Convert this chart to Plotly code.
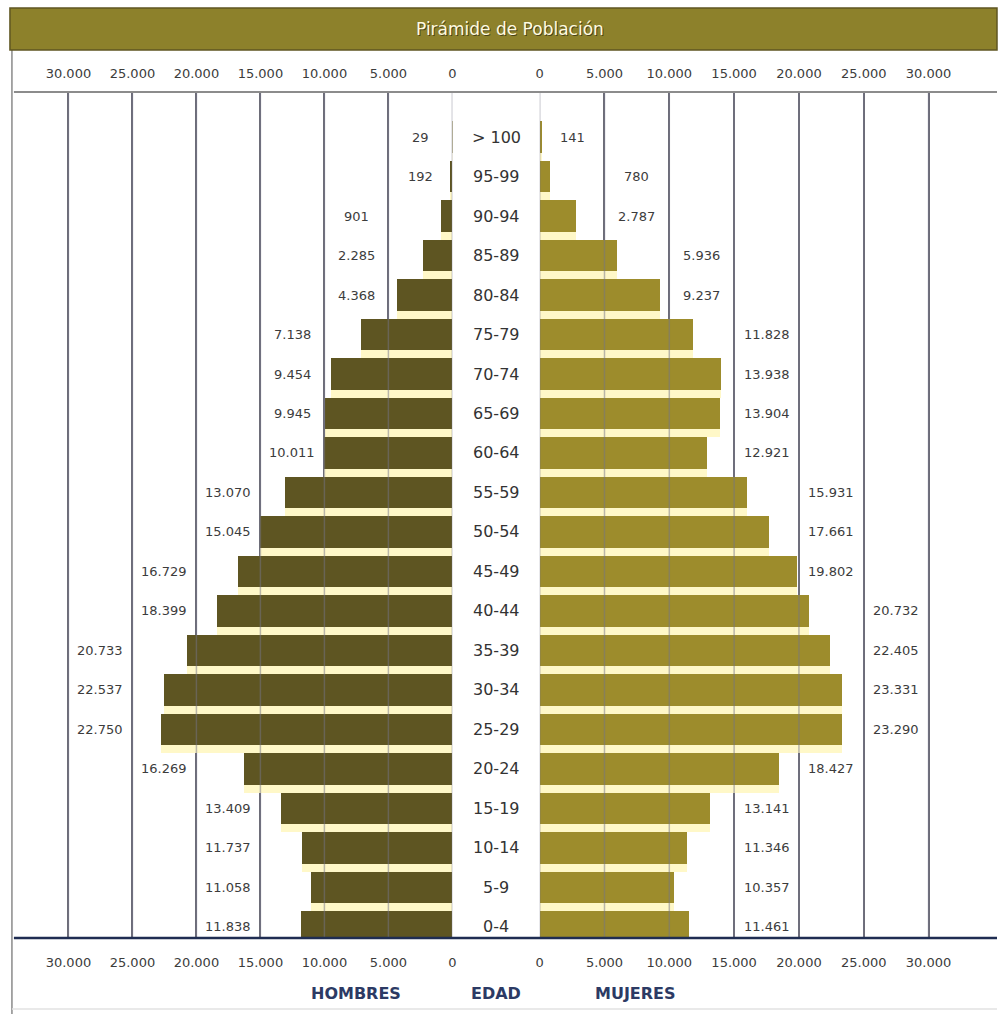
import math
import plotly.graph_objects as go

# ---------------- data ----------------
ages = ["0-4", "5-9", "10-14", "15-19", "20-24", "25-29", "30-34", "35-39",
        "40-44", "45-49", "50-54", "55-59", "60-64", "65-69", "70-74",
        "75-79", "80-84", "85-89", "90-94", "95-99", "> 100"]
hombres = [11838, 11058, 11737, 13409, 16269, 22750, 22537, 20733, 18399,
           16729, 15045, 13070, 10011, 9945, 9454, 7138, 4368, 2285, 901, 192, 29]
mujeres = [11461, 10357, 11346, 13141, 18427, 23290, 23331, 22405, 20732,
           19802, 17661, 15931, 12921, 13904, 13938, 11828, 9237, 5936, 2787, 780, 141]
tick_values = [0, 5000, 10000, 15000, 20000, 25000, 30000]
tick_labels = ["0", "5.000", "10.000", "15.000", "20.000", "25.000", "30.000"]
title_text = "Pirámide de Población"
label_men, label_age, label_women = "HOMBRES", "EDAD", "MUJERES"

# ---------------- layout helpers ----------------
W, H = 1001, 1014
def px(x):
    return x / W
def py(y):
    return 1 - y / H

LEFT_C = "#5E5522"
RIGHT_C = "#9D8C2C"
CREAM = "#FFF8C8"
FONT = "DejaVu Sans, Liberation Sans, sans-serif"

def fmt(v):
    return f"{v:,}".replace(",", ".")

def label_pos(v, step=5000):
    k = max(0, math.ceil((v - 250) / step))
    return (k + 0.5) * step

fig = go.Figure()
# cream backing bars (base subplots), shifted to fill the gap below each bar
fig.add_trace(go.Bar(y=ages, x=hombres, orientation="h", xaxis="x", yaxis="y",
                     marker=dict(color=CREAM, line=dict(width=0)), width=1.0, offset=-0.6,
                     hoverinfo="skip", showlegend=False))
fig.add_trace(go.Bar(y=ages, x=mujeres, orientation="h", xaxis="x2", yaxis="y",
                     marker=dict(color=CREAM, line=dict(width=0)), width=1.0, offset=-0.6,
                     hoverinfo="skip", showlegend=False))
# main bars (overlay subplots)
fig.add_trace(go.Bar(y=ages, x=hombres, orientation="h", xaxis="x3", yaxis="y",
                     marker=dict(color=LEFT_C, line=dict(width=0)), width=0.8,
                     name=label_men, showlegend=False))
fig.add_trace(go.Bar(y=ages, x=mujeres, orientation="h", xaxis="x4", yaxis="y",
                     marker=dict(color=RIGHT_C, line=dict(width=0)), width=0.8,
                     name=label_women, showlegend=False))

LEFT_RANGE = [34260, 0]
RIGHT_RANGE = [0, 35280]
tickfont = dict(family=FONT, size=13, color="#3c3c3c")
common_x = dict(tickvals=tick_values, ticktext=tick_labels, tickfont=tickfont,
                zeroline=False, showline=False, fixedrange=True,
                ticks="outside", tickcolor="rgba(0,0,0,0)")

fig.update_layout(
    width=W, height=H, autosize=False,
    margin=dict(l=0, r=0, t=0, b=0),
    paper_bgcolor="white", plot_bgcolor="rgba(0,0,0,0)",
    barmode="overlay", bargap=0,
    showlegend=False,
    font=dict(family=FONT),
    xaxis=dict(domain=[px(10), px(452)], range=LEFT_RANGE, anchor="y", side="bottom",
               showgrid=True, gridcolor="#6c6c76", gridwidth=1.5, ticklen=12, **common_x),
    xaxis2=dict(domain=[px(540), 1], range=RIGHT_RANGE, anchor="y", side="bottom",
                showgrid=True, gridcolor="#6c6c76", gridwidth=1.5, ticklen=12, **common_x),
    xaxis3=dict(overlaying="x", matches="x", anchor="y", side="top", range=LEFT_RANGE,
                showgrid=False, ticklen=8, **common_x),
    xaxis4=dict(overlaying="x2", matches="x2", anchor="y", side="top", range=RIGHT_RANGE,
                showgrid=False, ticklen=8, **common_x),
    yaxis=dict(domain=[py(938), py(92)], type="category", range=[-0.28, 21.14],
               showticklabels=False, showgrid=False, zeroline=False, showline=False,
               ticks="", fixedrange=True),
)

shapes = []
# grid lines drawn over the bars (semi transparent)
for xr in ("x", "x2"):
    for v in tick_values:
        shapes.append(dict(type="line", xref=xr, yref="y domain", x0=v, x1=v, y0=0, y1=1,
                           line=dict(color="rgba(115,115,135,0.5)", width=1.5), layer="above"))
# top rule
shapes.append(dict(type="line", xref="paper", yref="y domain", x0=px(10), x1=1, y0=1, y1=1,
                   line=dict(color="#8c8c8c", width=2), layer="above"))
# bottom axis rule
shapes.append(dict(type="line", xref="paper", yref="y domain", x0=px(10), x1=1, y0=0, y1=0,
                   line=dict(color="#1f2d52", width=2.5), layer="above"))
# frame: left border and bottom faint line
shapes.append(dict(type="line", xref="paper", yref="paper", x0=px(8), x1=px(8), y0=0, y1=py(8),
                   line=dict(color="#8a8a8a", width=1.5), layer="above"))
shapes.append(dict(type="line", xref="paper", yref="paper", x0=px(8), x1=1, y0=py(1009), y1=py(1009),
                   line=dict(color="#e2e2e2", width=1.5), layer="above"))
# title bar
shapes.append(dict(type="rect", xref="paper", yref="paper", x0=px(6), x1=1, y0=py(50), y1=py(8),
                   fillcolor="#8D812B", line=dict(color="#5f5622", width=1.5), layer="above"))
fig.update_layout(shapes=shapes)

ann = []
# title with a soft dark shadow
ann.append(dict(text=title_text, xref="paper", yref="paper", x=px(511), y=py(30),
                xanchor="center", yanchor="middle", showarrow=False,
                font=dict(family=FONT, size=17, color="rgba(60,55,20,0.85)")))
ann.append(dict(text=title_text, xref="paper", yref="paper", x=px(510), y=py(29),
                xanchor="center", yanchor="middle", showarrow=False,
                font=dict(family=FONT, size=17, color="#fffbe0")))
for a in ages:
    ann.append(dict(text=a, xref="paper", yref="y", x=px(496), y=a, showarrow=False,
                    xanchor="center", yanchor="middle",
                    font=dict(family=FONT, size=16, color="#333333")))
for a, v in zip(ages, hombres):
    ann.append(dict(text=fmt(v), xref="x", yref="y", x=label_pos(v), y=a, showarrow=False,
                    xanchor="center", yanchor="middle",
                    font=dict(family=FONT, size=13, color="#3c3c3c")))
for a, v in zip(ages, mujeres):
    ann.append(dict(text=fmt(v), xref="x2", yref="y", x=label_pos(v), y=a, showarrow=False,
                    xanchor="center", yanchor="middle",
                    font=dict(family=FONT, size=13, color="#3c3c3c")))
for t, x in ((label_men, 355), (label_age, 496), (label_women, 637)):
    ann.append(dict(text=f"<b>{t}</b>", xref="paper", yref="paper", x=px(x), y=py(993),
                    xanchor="center", yanchor="middle", showarrow=False,
                    font=dict(family=FONT, size=16, color="#2c3a64")))
fig.update_layout(annotations=ann)

fig.write_html("out.html", config={"displayModeBar": False},
               post_script="document.body.style.margin='0';document.body.style.overflow='hidden';")
